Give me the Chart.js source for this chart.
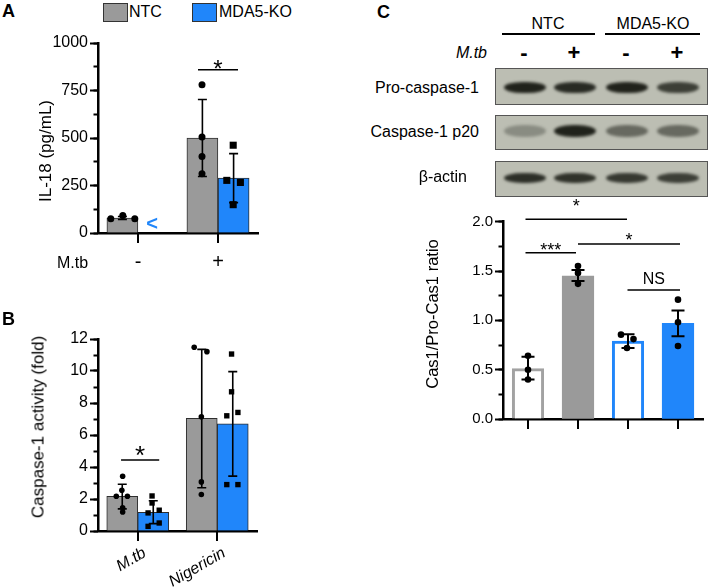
<!DOCTYPE html>
<html>
<head>
<meta charset="utf-8">
<script src="https://cdn.jsdelivr.net/npm/chart.js@4.4.1/dist/chart.umd.min.js"></script>
<style>
  body { margin: 0; width: 709px; height: 588px; position: relative; overflow: hidden; background: #fff;
         font-family: "Liberation Sans", Arial, sans-serif; color: #000; }
  canvas { position: absolute; }
  .t { position: absolute; white-space: nowrap; line-height: 1; }
  .box { position: absolute; width: 23px; height: 17px; border: 1.5px solid #333; }
  .rule { position: absolute; height: 1.5px; background: #000; }
  .strip { position: absolute; left: 495px; width: 211px; border: 1px solid #555; background: #bcbeb3; overflow: hidden; }
  .band { position: absolute; border-radius: 45% / 50%; filter: blur(1.6px); }
</style>
</head>
<body>
<canvas id="chartA" width="280" height="250" style="left:0;top:30px"></canvas>
<canvas id="chartB" width="280" height="268" style="left:0;top:320px"></canvas>
<canvas id="chartC" width="329" height="250" style="left:380px;top:190px"></canvas>
<div id="blot"></div>
<div id="texts"></div>
<script>
const FONT = '"Liberation Sans", Arial, sans-serif';
const GRAY = '#9a9a9a';
const GRAY_EDGE = '#a2a2a2';
const BLUE = '#2086fa';
const EDGE = '#2e2e2e';
const PAIR_SHIFT = 0.195; // half the group width, in category units

// ---- A: IL-18 (pg/mL)
const aLabels = ['-', '+'];
const aNtc = [79, 500];
const aNtcLo = [71, 297];
const aNtcHi = [87, 703];
const aKo = [null, 289];
const aKoLo = [null, 160];
const aKoHi = [null, 418];
const aNtcDots = [[-0.34, 75], [-0.19, 92], [-0.04, 75], [0.8, 780], [0.8, 505], [0.8, 403], [0.8, 312]];
const aKoDots = [[1.19, 462], [1.11, 277], [1.28, 266], [1.19, 149]];
const aTicks = [0, 250, 500, 750, 1000];
const aSig = [{ from: 0.75, to: 1.25, y: 859, text: '*', font: '24px', dy: 7 }];

// ---- B: caspase-1 activity (fold)
const bLabels = ['M.tb', 'Nigericin'];
const bNtc = [2.16, 7.04];
const bNtcLo = [1.38, 2.70];
const bNtcHi = [2.92, 11.35];
const bKo = [1.17, 6.70];
const bKoLo = [0.46, 3.43];
const bKoHi = [1.89, 9.96];
const bNtcDots = [[-0.19, 3.42], [-0.2, 2.55], [-0.27, 2.17], [-0.13, 2.17], [-0.19, 1.45], [-0.19, 1.19],
                  [0.71, 11.48], [0.87, 11.21], [0.8, 7.14], [0.8, 3.07], [0.8, 2.28]];
const bKoDots = [[0.18, 2.19], [0.18, 1.75], [0.13, 1.13], [0.27, 1.30], [0.27, 0.50], [0.13, 0.29],
                 [1.18, 11.06], [1.18, 8.70], [1.12, 7.20], [1.26, 7.41], [1.12, 2.90], [1.26, 2.90]];
const bTicks = [0, 2, 4, 6, 8, 10, 12];
const bSig = [{ from: -0.21, to: 0.27, y: 4.43, text: '*', font: '26px', dy: 4 }];

// ---- C: Cas1/Pro-Cas1 ratio
const cLabels = ['NTC -', 'NTC +', 'MDA5-KO -', 'MDA5-KO +'];
const cMean = [0.51, 1.45, 0.79, 0.97];
const cLo = [0.40, 1.40, 0.72, 0.84];
const cHi = [0.63, 1.51, 0.86, 1.10];
const cFill = ['#ffffff', GRAY, '#ffffff', BLUE];
const cEdge = [GRAY_EDGE, GRAY, BLUE, BLUE];
const cEdgeWidth = [3, 0, 3, 0];
const cDots = [[0, 0.64], [0, 0.50], [0, 0.40], [1, 1.55], [1, 1.48], [1, 1.37],
               [1.86, 0.855], [2.11, 0.81], [1.98, 0.72], [3, 1.21], [3, 0.98], [3, 0.74]];
const cTicks = [0, 0.5, 1.0, 1.5, 2.0];
const cSig = [
  { from: -0.05, to: 1.98, y: 2.024, text: '*', font: '18px', dy: -7 },
  { from: -0.05, to: 0.96, y: 1.686, text: '***', font: '18px', dy: 3 },
  { from: 1.0, to: 3.04, y: 1.774, text: '*', font: '18px', dy: 2 },
  { from: 1.99, to: 3.04, y: 1.308, text: 'NS', font: '16px', dy: -6 }
];

// ---- blot band intensities (lanes: NTC -, NTC +, KO -, KO +)
const proBand = [1, 0.95, 1, 0.82];
const p20Band = [0.32, 1, 0.55, 0.55];
const actinBand = [0.92, 0.9, 0.86, 0.82];

Chart.register({
  id: 'marks',
  afterDatasetsDraw(chart, args, opts) {
    const { ctx, chartArea } = chart;
    const xa = chart.scales.x;
    const xs = chart.scales.xs;
    const y = chart.scales.y;
    ctx.save();
    ctx.strokeStyle = '#000';
    ctx.fillStyle = '#000';

    ctx.lineWidth = opts.errWidth;
    chart.data.datasets.forEach((ds, i) => {
      if (!ds.errLo) return;
      const meta = chart.getDatasetMeta(i);
      ds.errLo.forEach((lo, j) => {
        if (lo == null) return;
        const x = meta.data[j].x;
        const y1 = y.getPixelForValue(lo);
        const y2 = y.getPixelForValue(ds.errHi[j]);
        ctx.beginPath();
        ctx.moveTo(x, y1); ctx.lineTo(x, y2);
        ctx.moveTo(x - opts.cap, y1); ctx.lineTo(x + opts.cap, y1);
        ctx.moveTo(x - opts.cap, y2); ctx.lineTo(x + opts.cap, y2);
        ctx.stroke();
      });
    });

    ctx.lineWidth = 1.5;
    ctx.textAlign = 'center';
    ctx.textBaseline = 'alphabetic';
    (opts.brackets || []).forEach(b => {
      const x1 = xs.getPixelForValue(b.from);
      const x2 = xs.getPixelForValue(b.to);
      const py = y.getPixelForValue(b.y);
      ctx.beginPath(); ctx.moveTo(x1, py); ctx.lineTo(x2, py); ctx.stroke();
      ctx.font = b.font + ' ' + FONT;
      ctx.fillText(b.text, (x1 + x2) / 2, py + b.dy);
    });

    if (opts.labelMode === 'slanted') {
      ctx.font = 'italic 16px ' + FONT;
      ctx.textAlign = 'right';
      ctx.textBaseline = 'middle';
      chart.data.labels.forEach((lab, i) => {
        ctx.save();
        ctx.translate(xa.getPixelForValue(i) + 7, chartArea.bottom + 21);
        ctx.rotate(-Math.PI / 6);
        ctx.fillText(lab, 0, 0);
        ctx.restore();
      });
    } else if (opts.labelMode === 'flat') {
      ctx.font = '20px ' + FONT;
      ctx.textAlign = 'center';
      ctx.textBaseline = 'middle';
      chart.data.labels.forEach((lab, i) => {
        ctx.fillText(lab, xa.getPixelForValue(i), chartArea.bottom + 29);
      });
    }
    ctx.restore();
  },
  afterDraw(chart) {
    // category tick marks under the x axis
    const { ctx, chartArea } = chart;
    const xa = chart.scales.x;
    ctx.save();
    ctx.fillStyle = '#000';
    chart.data.labels.forEach((lab, i) => {
      const px = xa.getPixelForValue(i);
      ctx.fillRect(Math.round(px) - 1, chartArea.bottom, 2, 10);
    });
    ctx.restore();
  }
});

function dots(list, style, r) {
  return {
    type: 'scatter', xAxisID: 'xs', yAxisID: 'y', order: 0,
    data: list.map(p => ({ x: p[0], y: p[1] })),
    pointStyle: style, pointRadius: r, backgroundColor: '#000', borderColor: '#000', borderWidth: 0
  };
}

// bars sit on the hidden linear axis "xs" so that point datasets never change their width
function bars(values, shift, extra) {
  return Object.assign({
    type: 'bar', xAxisID: 'xs', yAxisID: 'y', order: 1, grouped: false,
    data: values.map((v, i) => ({ x: i + shift, y: v }))
  }, extra);
}

function panel(id, o) {
  return new Chart(document.getElementById(id), {
    type: 'bar',
    data: { labels: o.labels, datasets: o.datasets },
    options: {
      responsive: false,
      animation: false,
      devicePixelRatio: 1,
      layout: { padding: { left: 0, top: o.padT, right: o.padR, bottom: 0 } },
      plugins: {
        legend: { display: false },
        tooltip: { enabled: false },
        marks: { errWidth: o.errWidth, cap: o.cap, brackets: o.brackets, labelMode: o.labelMode }
      },
      scales: {
        x: {
          type: 'category',
          z: 1,
          offset: true,
          grid: { display: false },
          border: { color: '#000', width: 2.5 },
          ticks: { callback: () => '' },
          afterFit: s => { s.height = o.xh; }
        },
        xs: { type: 'linear', display: false, offset: false, grid: { offset: false },
              min: -0.5, max: o.labels.length - 0.5 },
        y: {
          z: 1,
          weight: 1,
          min: o.min, max: o.max,
          afterBuildTicks: s => { s.ticks = o.ticks.map(v => ({ value: v })); },
          ticks: { color: '#000', font: { family: FONT, size: o.tickSize }, padding: 2, callback: o.fmt },
          grid: { drawOnChartArea: false, tickLength: 8, tickWidth: 2, tickColor: '#000' },
          border: { color: '#000', width: 2.5 },
          afterFit: s => { s.width = o.yw; }
        },
        ym: {
          position: 'left',
          weight: 0,
          min: o.min, max: o.max,
          ticks: { display: false, stepSize: o.minor },
          grid: { drawOnChartArea: false, tickLength: 4.5, tickWidth: 2, tickColor: '#000' },
          border: { display: false },
          afterFit: s => { s.width = 0; }
        }
      }
    }
  });
}

function pairBars(ntc, ntcLo, ntcHi, ko, koLo, koHi) {
  const common = { borderColor: EDGE, borderWidth: 1, barThickness: 31 };
  return [
    bars(ntc, -PAIR_SHIFT, Object.assign({ label: 'NTC', backgroundColor: GRAY, errLo: ntcLo, errHi: ntcHi }, common)),
    bars(ko, PAIR_SHIFT, Object.assign({ label: 'MDA5-KO', backgroundColor: BLUE, errLo: koLo, errHi: koHi }, common))
  ];
}

panel('chartA', {
  labels: aLabels,
  datasets: [...pairBars(aNtc, aNtcLo, aNtcHi, aKo, aKoLo, aKoHi),
             dots(aNtcDots, 'circle', 3.5), dots(aKoDots, 'rect', 5)],
  min: 0, max: 1000, ticks: aTicks, minor: 125, tickSize: 16, fmt: v => String(v),
  padT: 13, padR: 22, yw: 98, xh: 47,
  errWidth: 1.6, cap: 4.5, brackets: aSig, labelMode: 'flat'
});

panel('chartB', {
  labels: bLabels,
  datasets: [...pairBars(bNtc, bNtcLo, bNtcHi, bKo, bKoLo, bKoHi),
             dots(bNtcDots, 'circle', 2.8), dots(bKoDots, 'rect', 3.8)],
  min: 0, max: 12, ticks: bTicks, minor: 1, tickSize: 16, fmt: v => String(v),
  padT: 19, padR: 23, yw: 98, xh: 57,
  errWidth: 1.6, cap: 4.5, brackets: bSig, labelMode: 'slanted'
});

panel('chartC', {
  labels: cLabels,
  datasets: [
    bars(cMean, 0, { errLo: cLo, errHi: cHi, backgroundColor: cFill, borderColor: cEdge,
                     borderWidth: cEdgeWidth, barThickness: 31.5 }),
    dots(cDots, 'circle', 3.3)
  ],
  min: 0, max: 2, ticks: cTicks, minor: 0.25, tickSize: 15, fmt: v => v.toFixed(1),
  padT: 31.7, padR: 6, yw: 123, xh: 21,
  errWidth: 2, cap: 6.5, brackets: cSig
});

// ---- western blot strips
const blot = document.getElementById('blot');
const laneCenters = [525, 575, 627, 678];
const strips = [
  { top: 68, h: 35, bandY: 18, bandH: 11, vals: proBand },
  { top: 115, h: 33, bandY: 15, bandH: 12, vals: p20Band },
  { top: 161, h: 34, bandY: 16, bandH: 10, vals: actinBand }
];
strips.forEach(s => {
  const el = document.createElement('div');
  el.className = 'strip';
  el.style.top = s.top + 'px';
  el.style.height = s.h + 'px';
  s.vals.forEach((v, i) => {
    const b = document.createElement('div');
    b.className = 'band';
    b.style.left = (laneCenters[i] - 21 - 496) + 'px';
    b.style.width = '42px';
    b.style.top = (s.bandY - s.bandH / 2) + 'px';
    b.style.height = s.bandH + 'px';
    b.style.background = 'rgba(32, 34, 27, ' + v + ')';
    el.appendChild(b);
  });
  blot.appendChild(el);
});

// ---- text and legend
const texts = document.getElementById('texts');
function label(str, x, y, o) {
  o = o || {};
  const el = document.createElement('div');
  el.className = 't';
  el.textContent = str;
  el.style.left = x + 'px';
  el.style.top = y + 'px';
  el.style.fontSize = (o.size || 16) + 'px';
  if (o.bold) el.style.fontWeight = 'bold';
  if (o.italic) el.style.fontStyle = 'italic';
  if (o.color) el.style.color = o.color;
  const shift = o.align === 'r' ? '-100%' : o.align === 'l' ? '0' : '-50%';
  el.style.transform = 'translate(' + shift + ',-50%)' + (o.rot ? ' rotate(-90deg)' : '');
  texts.appendChild(el);
}
function box(x, y, color) {
  const el = document.createElement('div');
  el.className = 'box';
  el.style.left = x + 'px';
  el.style.top = y + 'px';
  el.style.background = color;
  texts.appendChild(el);
}
function rule(x, y, w) {
  const el = document.createElement('div');
  el.className = 'rule';
  el.style.left = x + 'px';
  el.style.top = y + 'px';
  el.style.width = w + 'px';
  texts.appendChild(el);
}

label('A', 2, 11, { size: 18, bold: true, align: 'l' });
label('B', 2, 319, { size: 18, bold: true, align: 'l' });
label('C', 377, 12, { size: 18, bold: true, align: 'l' });

box(103, 3, GRAY);
label('NTC', 129, 12, { align: 'l' });
box(192, 3, BLUE);
label('MDA5-KO', 219, 12, { align: 'l' });

label('IL-18 (pg/mL)', 45, 151, { size: 17, rot: true });
label('M.tb', 57, 263, { align: 'l' });
label('<', 152, 223, { size: 20, bold: true, color: BLUE });
label('Caspase-1 activity (fold)', 38, 427, { size: 17, rot: true });
label('Cas1/Pro-Cas1 ratio', 432, 314, { size: 16.5, rot: true });

label('NTC', 548, 24);
rule(502, 33, 93);
label('MDA5-KO', 653, 24);
rule(605, 33, 95);
label('M.tb', 487, 53, { italic: true, align: 'r' });
['-', '+', '-', '+'].forEach((s, i) => label(s, laneCenters[i] - 1, 53, { size: 22, bold: true }));
label('Pro-caspase-1', 479, 88, { align: 'r' });
label('Caspase-1 p20', 479, 132, { align: 'r' });
label('β-actin', 467, 177, { align: 'r' });
</script>
</body>
</html>
